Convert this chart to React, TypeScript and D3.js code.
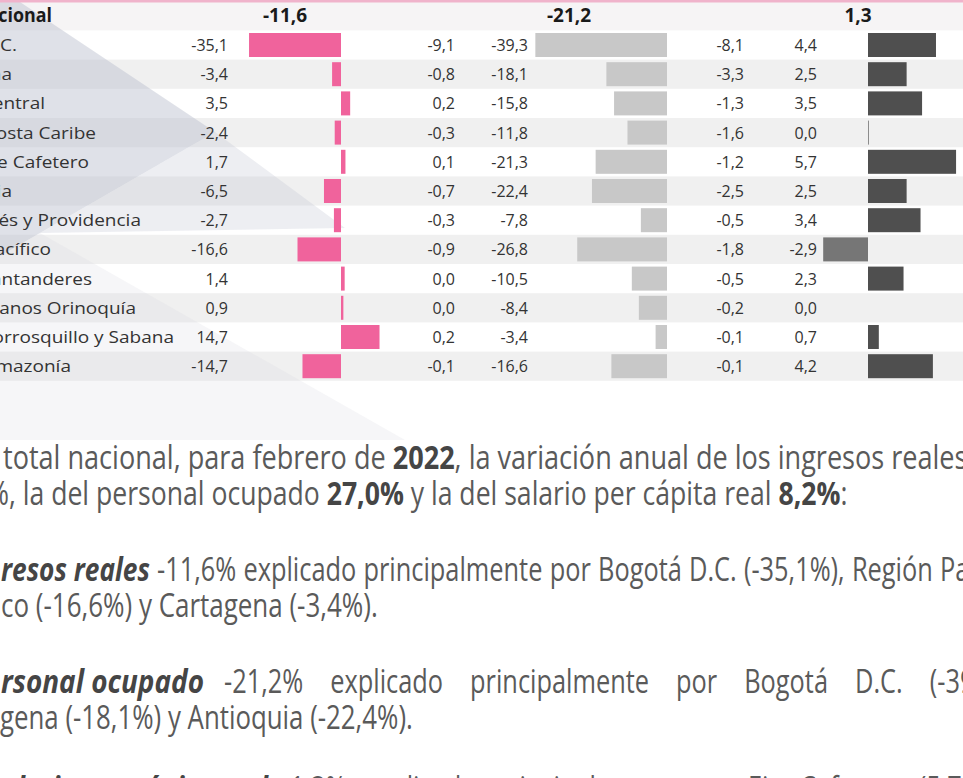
import React, { useLayoutEffect, useRef, useState } from "react";
import * as d3 from "d3";

// ---------- DATA ----------
const regions = [
  "Bogotá D.C.",
  "Cartagena",
  "Región Central",
  "Región Costa Caribe",
  "Región Eje Cafetero",
  "Antioquia",
  "San Andrés y Providencia",
  "Región Pacífico",
  "Región Santanderes",
  "Región Llanos Orinoquía",
  "Golfo de Morrosquillo y Sabana",
  "Región Amazonía",
];
const ingresosReales = [-35.1, -3.4, 3.5, -2.4, 1.7, -6.5, -2.7, -16.6, 1.4, 0.9, 14.7, -14.7];
const contribIngresos = [-9.1, -0.8, 0.2, -0.3, 0.1, -0.7, -0.3, -0.9, 0.0, 0.0, 0.2, -0.1];
const personalOcupado = [-39.3, -18.1, -15.8, -11.8, -21.3, -22.4, -7.8, -26.8, -10.5, -8.4, -3.4, -16.6];
const contribPersonal = [-8.1, -3.3, -1.3, -1.6, -1.2, -2.5, -0.5, -1.8, -0.5, -0.2, -0.1, -0.1];
const salarioPerCapita = [4.4, 2.5, 3.5, 0.04, 5.7, 2.5, 3.4, -2.9, 2.3, 0.0, 0.7, 4.2];
const totalLabel = "Total nacional";
const totals = [-11.6, -21.2, 1.3];

// ---------- LAYOUT ----------
const W = 963;
const H = 778;
const labelRightX = [17, 12, 45, 96, 89, 12, 141, 51, 92, 136, 174, 71];
const labelScaleX = 1.12;
const headerScaleX = 0.94;
const headerLabelRight = 52;
const totalCenters = [285, 569, 858];
const panels = [
  { values: ingresosReales, contrib: contribIngresos, valueRight: 228, contribRight: 455, zero: 341, unit: 2.62, pos: "#F0639C", neg: "#F0639C" },
  { values: personalOcupado, contrib: contribPersonal, valueRight: 528, contribRight: 744, zero: 667, unit: 3.35, pos: "#C8C8C8", neg: "#C8C8C8" },
  { values: salarioPerCapita, contrib: null as number[] | null, valueRight: 817, contribRight: 0, zero: 868, unit: 15.45, pos: "#4F4F4F", neg: "#767676" },
];

const locale = d3.formatLocale({ decimal: ",", thousands: ".", grouping: [3], currency: ["", ""], minus: "-" });
const fmt1 = locale.format(".1f");
const fmt = (v: number) => {
  const s = fmt1(v);
  return s === "-0,0" ? "0,0" : s;
};

type Seg = { t: string; b?: boolean; i?: boolean };
type Anchor = { prefix: string; x: number };
type Part = { segs: Seg[]; anchors: Anchor[]; kind: "fit" | "just" | "just1" | "auto" };
type Line = { y: number; parts: Part[] };

const paraFont = "'Open Sans', 'Noto Sans', sans-serif";
const paraSize = 32;

const lines: Line[] = [
  {
    y: 469,
    parts: [
      {
        kind: "fit",
        segs: [{ t: "total nacional, para febrero de " }, { t: "2022", b: true }, { t: ", la variación anual de los ingresos reales" }],
        anchors: [{ prefix: "", x: 3 }, { prefix: "total nacional, para febrero de 2022, la variación anual de los ingresos reales", x: 968 }],
      },
    ],
  },
  {
    y: 505,
    parts: [
      {
        kind: "fit",
        segs: [{ t: "%, la del personal ocupado " }, { t: "27,0%", b: true }, { t: " y la del salario per cápita real " }, { t: "8,2%", b: true }, { t: ":" }],
        anchors: [{ prefix: "%", x: 9 }, { prefix: "%, la del personal ocupado 27,0% y la del salario per cápita real 8,2%:", x: 848 }],
      },
    ],
  },
  {
    y: 581,
    parts: [
      { kind: "fit", segs: [{ t: "resos reales", b: true, i: true }], anchors: [{ prefix: "", x: 1 }, { prefix: "resos reales", x: 150 }] },
      {
        kind: "just",
        segs: [{ t: "-11,6% explicado principalmente por Bogotá D.C. (-35,1%), Región Pacífico" }],
        anchors: [
          { prefix: "", x: 157 },
          { prefix: "-11,6% explicado ", x: 357 },
          { prefix: "-11,6% explicado principalmente por Bogotá D.C. (-35,1%),", x: 845 },
        ],
      },
    ],
  },
  {
    y: 617,
    parts: [
      { kind: "fit", segs: [{ t: "co (-16,6%) y Cartagena (-3,4%)." }], anchors: [{ prefix: "", x: 1 }, { prefix: "co (-16,6%) y Cartagena (-3,4%).", x: 378 }] },
    ],
  },
  {
    y: 693,
    parts: [
      { kind: "fit", segs: [{ t: "rsonal ocupado", b: true, i: true }], anchors: [{ prefix: "", x: 1 }, { prefix: "rsonal ocupado", x: 204 }] },
      {
        kind: "just1",
        segs: [{ t: "-21,2% explicado principalmente por Bogotá D.C. (-39,3%)," }],
        anchors: [
          { prefix: "", x: 224 },
          { prefix: "-21,2% explicado principalmente por Bogotá D.C.", x: 903 },
        ],
      },
    ],
  },
  {
    y: 729,
    parts: [
      { kind: "fit", segs: [{ t: "gena (-18,1%) y Antioquia (-22,4%)." }], anchors: [{ prefix: "", x: 0 }, { prefix: "gena (-18,1%) y Antioquia (-22,4%).", x: 413 }] },
    ],
  },
  {
    y: 800,
    parts: [
      { kind: "fit", segs: [{ t: "alario per cápita real", b: true, i: true }], anchors: [{ prefix: "", x: 1 }, { prefix: "alario per cápita real", x: 268 }] },
      {
        kind: "auto",
        segs: [{ t: "1,3% explicado principalmente por Eje Cafetero (5,7%), Bogotá D.C. (4,4%) y Amazonía (4,2%)." }],
        anchors: [{ prefix: "", x: 290 }],
      },
    ],
  },
];

function sliceSegs(segs: Seg[], n: number): Seg[] {
  const out: Seg[] = [];
  let left = n;
  for (const s of segs) {
    if (left <= 0) break;
    const t = s.t.slice(0, left);
    out.push({ ...s, t });
    left -= t.length;
  }
  return out;
}

function SegSpans({ segs }: { segs: Seg[] }) {
  return (
    <>
      {segs.map((s, k) => (
        <tspan key={k} fontWeight={s.b ? 700 : 400} fontStyle={s.i ? "italic" : "normal"} fill={s.b ? "#454545" : "#5a5a5a"}>
          {s.t}
        </tspan>
      ))}
    </>
  );
}

type Fit = { c: number; x0: number; ws: number };

function Paragraphs() {
  const measRef = useRef<SVGTextElement | null>(null);
  const [fits, setFits] = useState<Fit[][] | null>(null);

  useLayoutEffect(() => {
    const el = measRef.current;
    if (!el) return;
    const sel = d3.select(el);
    const width = (segs: Seg[]) => {
      sel.selectAll("tspan").remove();
      const nonEmpty = segs.filter((s) => s.t.length);
      nonEmpty.forEach((s) => {
        sel.append("tspan").attr("font-weight", s.b ? 700 : 400).attr("font-style", s.i ? "italic" : "normal").text(s.t);
      });
      return nonEmpty.length ? el.getComputedTextLength() : 0;
    };
    const spaces = (str: string) => (str.match(/ /g) || []).length;
    const res: Fit[][] = lines.map((ln) => ln.parts.map(() => ({ c: 1, x0: 0, ws: 0 })));
    const justC: number[] = [];
    const justWs: number[] = [];
    lines.forEach((ln, i) =>
      ln.parts.forEach((p, j) => {
        if (p.kind === "fit") {
          const [a, b] = p.anchors;
          const wa = width(sliceSegs(p.segs, a.prefix.length));
          const wb = width(sliceSegs(p.segs, b.prefix.length));
          const c = (b.x - a.x) / (wb - wa);
          res[i][j] = { c, x0: a.x - c * wa, ws: 0 };
        } else if (p.kind === "just") {
          const x0 = p.anchors[0].x;
          const k1 = p.anchors[1], k2 = p.anchors[2];
          const W1 = width(sliceSegs(p.segs, k1.prefix.length)), S1 = spaces(k1.prefix);
          const W2 = width(sliceSegs(p.segs, k2.prefix.length)), S2 = spaces(k2.prefix);
          const r1 = k1.x - x0, r2 = k2.x - x0;
          const det = W1 * S2 - W2 * S1;
          const u = (r1 * S2 - r2 * S1) / det;
          const v = (W1 * r2 - W2 * r1) / det;
          res[i][j] = { c: u, x0, ws: v / u };
          justC.push(u);
        }
      })
    );
    const cM = d3.mean(justC) || 0.85;
    lines.forEach((ln, i) =>
      ln.parts.forEach((p, j) => {
        if (p.kind === "just1") {
          const x0 = p.anchors[0].x;
          const k2 = p.anchors[1];
          const W2 = width(sliceSegs(p.segs, k2.prefix.length)), S2 = spaces(k2.prefix);
          const ws = ((k2.x - x0) / cM - W2) / Math.max(1, S2);
          res[i][j] = { c: cM, x0, ws };
          justWs.push(ws);
        } else if (p.kind === "just") {
          justWs.push(res[i][j].ws);
        }
      })
    );
    const wsM = d3.mean(justWs) || 4;
    lines.forEach((ln, i) =>
      ln.parts.forEach((p, j) => {
        if (p.kind === "auto") res[i][j] = { c: cM, x0: p.anchors[0].x, ws: wsM };
      })
    );
    sel.selectAll("tspan").remove();
    setFits(res);
  }, []);

  return (
    <g fontFamily={paraFont} fontSize={paraSize}>
      <text ref={measRef} x={0} y={-100} visibility="hidden" />
      {fits &&
        lines.map((ln, i) =>
          ln.parts.map((p, j) => (
            <g key={`${i}-${j}`} transform={`translate(${fits[i][j].x0},0) scale(${fits[i][j].c},1)`}>
              <text x={0} y={ln.y} style={{ wordSpacing: `${fits[i][j].ws}px` }}>
                <SegSpans segs={p.segs} />
              </text>
            </g>
          ))
        )}
    </g>
  );
}

export default function App() {
  useLayoutEffect(() => {
    document.body.style.margin = "0";
  }, []);

  const rowTop = 30.4;
  const rowStep = 29.2;
  const y = d3
    .scaleBand<string>()
    .domain(regions)
    .range([rowTop, rowTop + rowStep * regions.length])
    .paddingInner(0)
    .paddingOuter(0);
  const barPad = 2.6;
  const tableFont = "'Open Sans', 'Noto Sans', sans-serif";

  return (
    <svg width={W} height={H} viewBox={`0 0 ${W} ${H}`} style={{ position: "fixed", left: 0, top: 0, display: "block", background: "#fff" }}>
      {/* row stripes */}
      <rect x={0} y={0} width={W} height={rowTop} fill="#f6f4f5" />
      {regions.map((r, i) =>
        i % 2 === 1 ? <rect key={r} x={0} y={y(r)!} width={W} height={y.bandwidth()} fill="#f0f0f0" /> : null
      )}

      {/* decorative translucent shapes */}
      <polygon points="0,0 17,0 215,132 0,256" fill="#b9bccd" opacity={0.45} />
      <polygon points="215,132 345,228 40,233" fill="#c5c7d3" opacity={0.3} />
      <polygon points="40,233 405,440 0,440 0,256" fill="#d5d7df" opacity={0.22} />

      {/* top rule */}
      <rect x={0} y={0} width={W} height={2.5} fill="#f0b3cb" />

      {/* header */}
      <g fontFamily={tableFont} fontWeight={700} fontSize={19} fill="#1a1a1a">
        <g transform={`translate(${headerLabelRight},22) scale(${headerScaleX},1)`}>
          <text x={0} y={0} textAnchor="end">
            {totalLabel}
          </text>
        </g>
        {totals.map((t, k) => (
          <text key={k} x={totalCenters[k]} y={22} textAnchor="middle">
            {fmt(t)}
          </text>
        ))}
      </g>

      {/* labels */}
      <g fontFamily={tableFont} fontSize={17} fill="#333">
        {regions.map((r, i) => (
          <g key={r} transform={`translate(${labelRightX[i]},${y(r)! + y.bandwidth() / 2 + 6}) scale(${labelScaleX},1)`}>
            <text x={0} y={0} textAnchor="end">
              {r}
            </text>
          </g>
        ))}
      </g>

      {/* panels */}
      {panels.map((p, k) => {
        const x = d3.scaleLinear().domain([0, 10]).range([p.zero, p.zero + 10 * p.unit]);
        return (
          <g key={k} fontFamily={tableFont} fontSize={16} fill="#333">
            {regions.map((r, i) => {
              const v = p.values[i];
              const x0 = Math.min(x(0), x(v));
              const w = Math.abs(x(v) - x(0));
              return (
                <g key={r}>
                  {w > 0 && <rect x={x0} y={y(r)! + barPad} width={w} height={y.bandwidth() - 2 * barPad} fill={v >= 0 ? p.pos : p.neg} />}
                  <text x={p.valueRight} y={y(r)! + y.bandwidth() / 2 + 6} textAnchor="end">
                    {fmt(v)}
                  </text>
                  {p.contrib && (
                    <text x={p.contribRight} y={y(r)! + y.bandwidth() / 2 + 6} textAnchor="end">
                      {fmt(p.contrib[i])}
                    </text>
                  )}
                </g>
              );
            })}
          </g>
        );
      })}

      <Paragraphs />
    </svg>
  );
}
